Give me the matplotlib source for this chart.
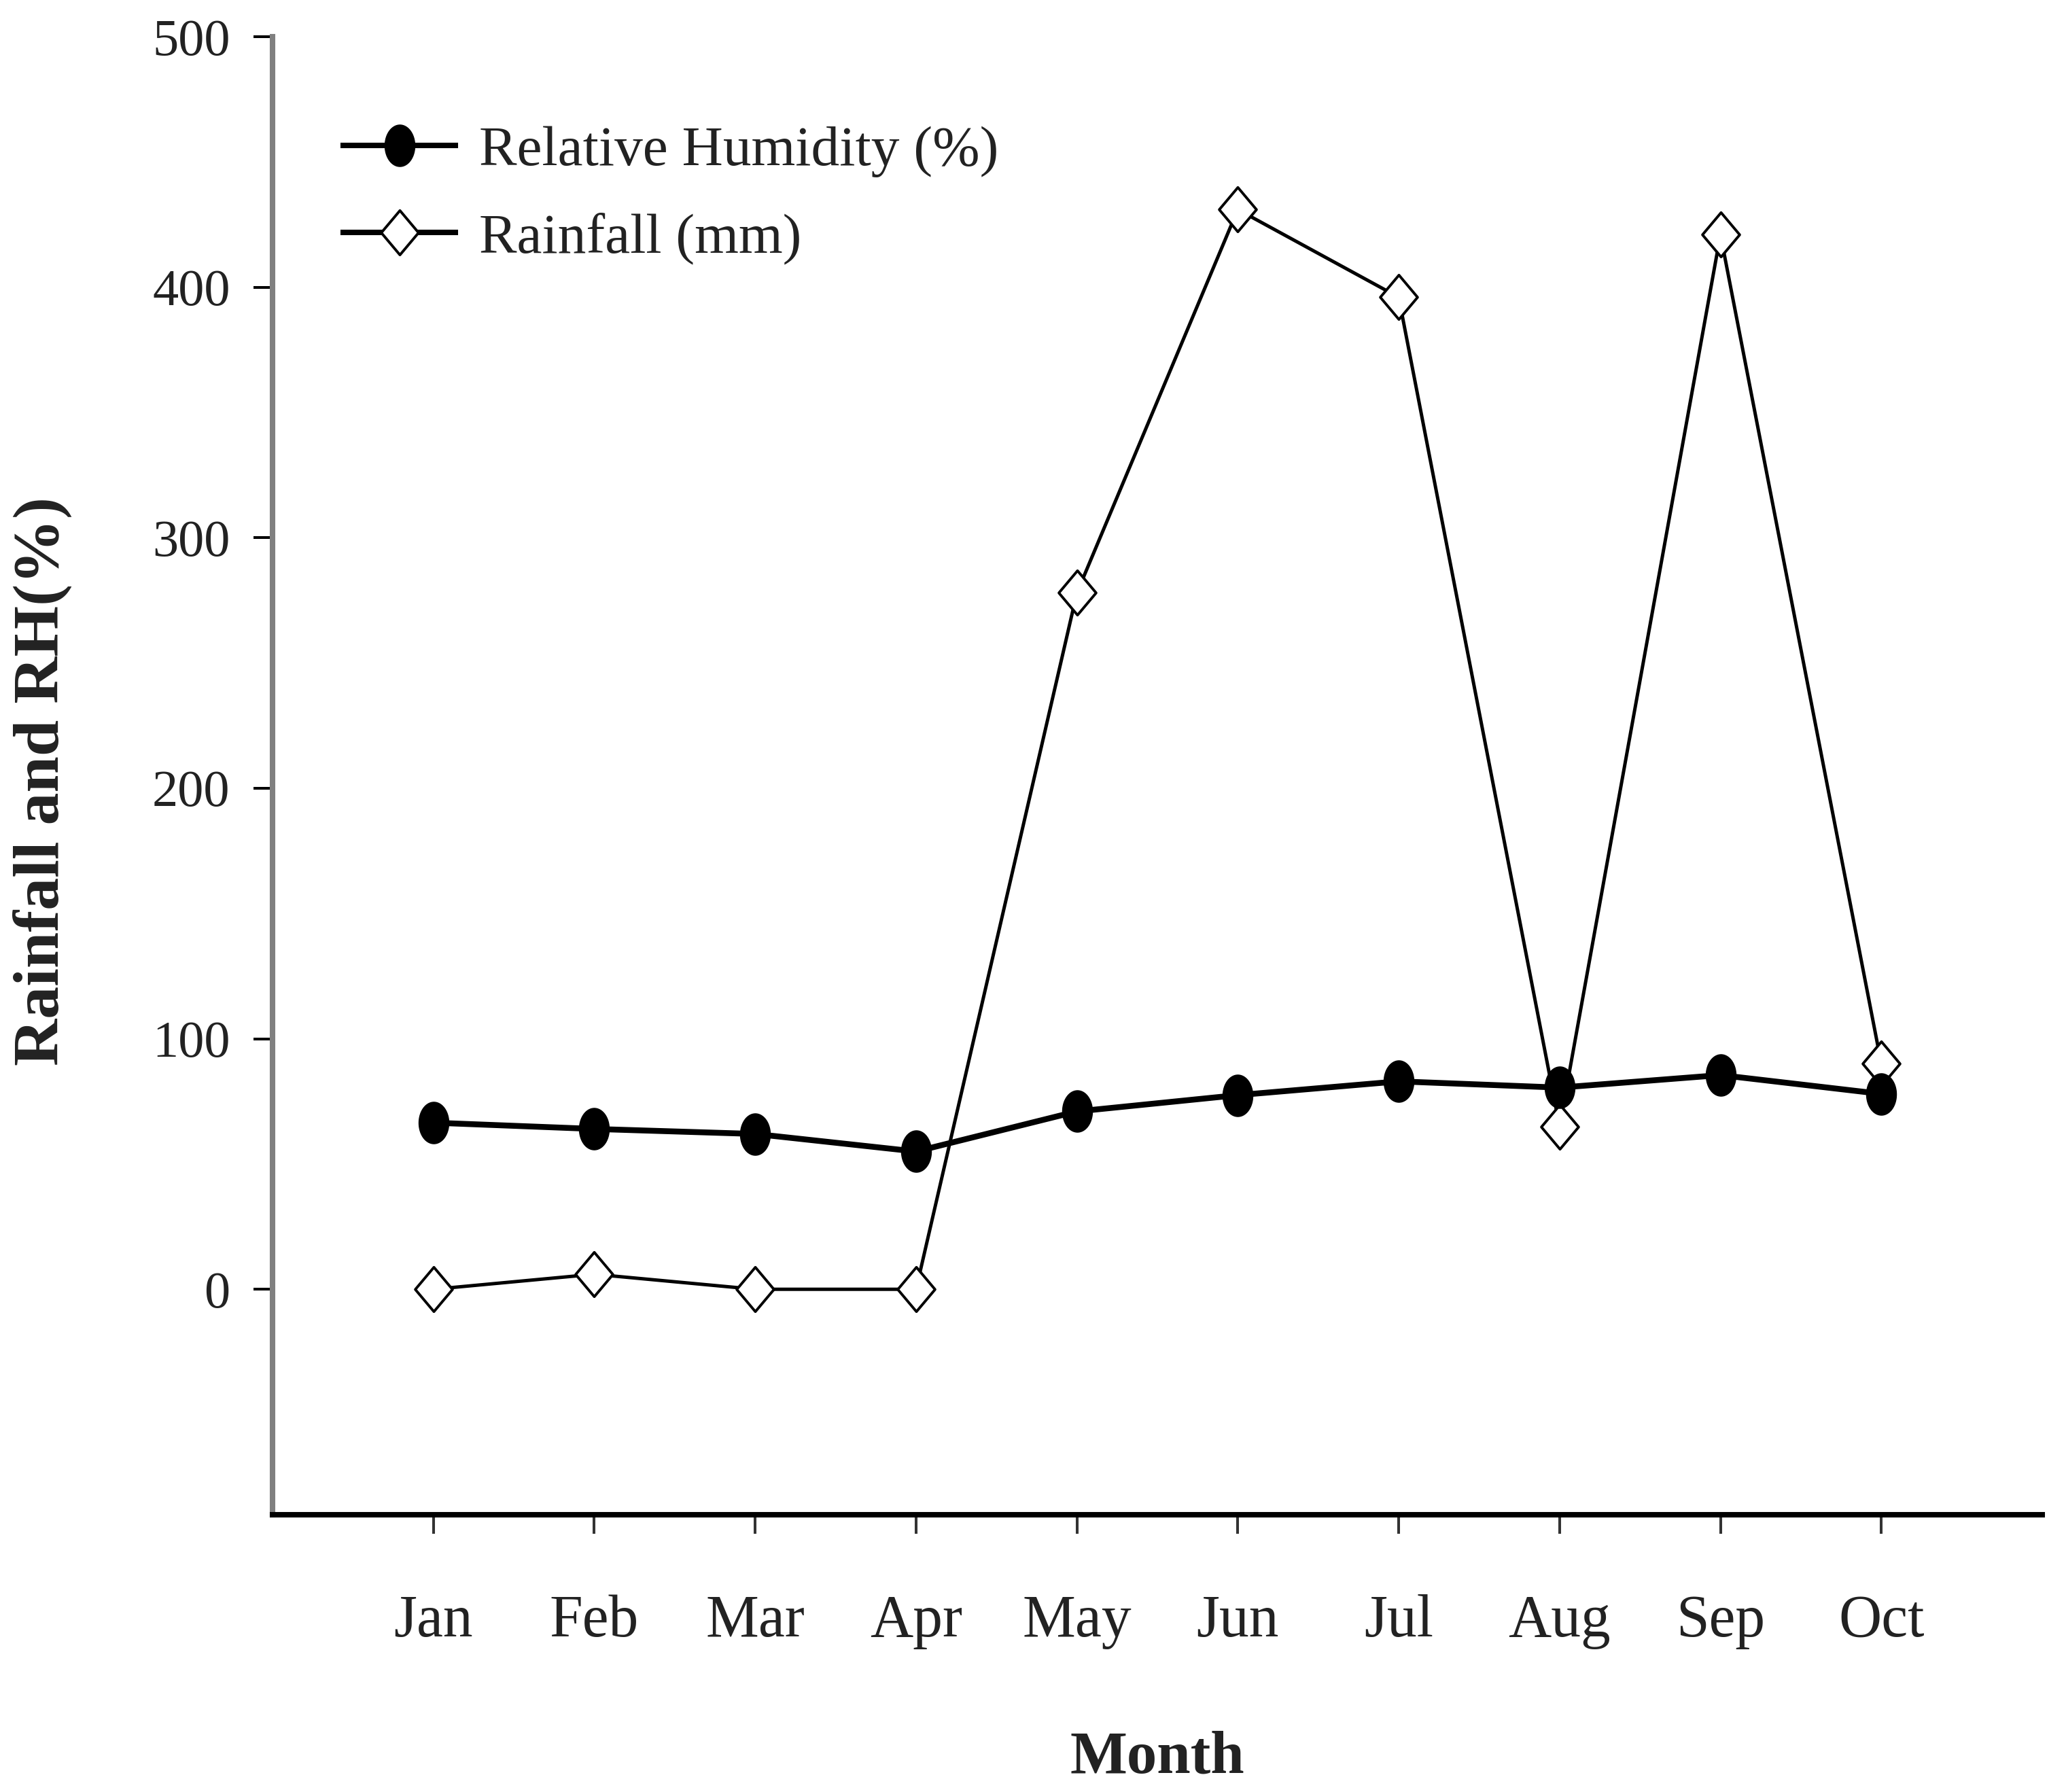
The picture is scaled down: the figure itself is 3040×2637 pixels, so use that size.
import numpy as np
import matplotlib
matplotlib.use("Agg")
import matplotlib.pyplot as plt
from matplotlib.path import Path
from matplotlib.markers import MarkerStyle

# ---- data ----
months = ["Jan", "Feb", "Mar", "Apr", "May", "Jun", "Jul", "Aug", "Sep", "Oct"]
relative_humidity = [66.5, 64, 62, 55, 71, 77.5, 83, 80.5, 85.5, 78]
rainfall = [0, 6, 0, 0, 278, 431, 396, 65, 421, 90]
y_ticks = [0, 100, 200, 300, 400, 500]

plt.rcParams['font.family'] = ['Liberation Serif', 'DejaVu Serif']

W, H = 3040, 2637
fig = plt.figure(figsize=(W / 100, H / 100), dpi=100)
ax = fig.add_axes([401 / W, 1 - 2229 / H, (3005 - 401) / W, (2229 - 54) / H])

x = np.arange(1, len(months) + 1)

# custom markers (tall ellipse and tall diamond)
t = np.linspace(0, 2 * np.pi, 80)
ell = Path(np.column_stack([0.72 * np.cos(t), np.sin(t)]), closed=True)
dia = Path([(0, 1), (0.84, 0), (0, -1), (-0.84, 0), (0, 1)], closed=True)

ax.plot(x, rainfall, color='black', lw=3.6, marker=MarkerStyle(dia),
        markersize=47, markerfacecolor='white', markeredgecolor='black',
        markeredgewidth=2.8, label='Rainfall (mm)', zorder=3)
ax.plot(x, relative_humidity, color='black', lw=6.2, marker=MarkerStyle(ell),
        markersize=44, markerfacecolor='black', markeredgecolor='black',
        markeredgewidth=1, label='Relative Humidity (%)', zorder=4)

ax.set_xlim(0, 11)
ax.set_ylim(-90, 500)
ax.set_xticks(x)
ax.set_xticklabels(months)
ax.set_yticks(y_ticks)
ax.set_yticklabels([str(v) for v in y_ticks])

for s in ['top', 'right']:
    ax.spines[s].set_visible(False)
ax.spines['left'].set_linewidth(5.8)
ax.spines['left'].set_color('#808080')
ax.spines['bottom'].set_linewidth(5.8)
ax.spines['bottom'].set_color('black')

ax.tick_params(axis='y', direction='out', length=20, width=2.9, color='black',
               pad=25, labelsize=55, labelcolor='#222222')
ax.tick_params(axis='x', direction='out', length=20, width=2.9, color='#333333',
               pad=64, labelsize=63, labelcolor='#222222')

handles, labels = ax.get_legend_handles_labels()
leg = ax.legend(handles[::-1], labels[::-1], loc='upper left',
                bbox_to_anchor=(0.040, 0.940), frameon=False, fontsize=60,
                numpoints=1, borderpad=0, borderaxespad=0, handlelength=1.98,
                handletextpad=0.42, labelspacing=0.62)
for ln in leg.get_lines():
    ln.set_linewidth(5.8)
for txt in leg.get_texts():
    txt.set_color('#222222')

fig.text(62 / W, 1 - 1150 / H, 'Rainfall and RH(%)', rotation=90,
         ha='center', va='center', fontsize=69, fontweight='bold', color='#222222')
fig.text(1703 / W, 1 - 2608 / H, 'Month', ha='center', va='baseline',
         fontsize=64, fontweight='bold', color='#222222')

fig.savefig('out.png', dpi=100, facecolor='white')
